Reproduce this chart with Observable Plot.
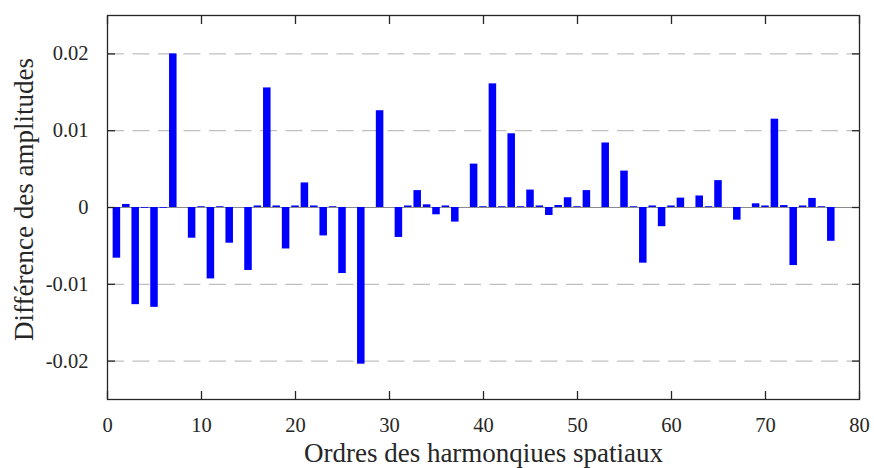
<!DOCTYPE html>
<html><head><meta charset="utf-8">
<script src="https://cdn.jsdelivr.net/npm/d3@7"></script>
<script src="https://cdn.jsdelivr.net/npm/@observablehq/plot@0.6"></script>
<style>html,body{margin:0;padding:0;background:#fff} #chart svg{display:block} #chart svg text{font-family:"Liberation Serif","Times New Roman",Times,serif !important;}</style>
</head><body><div id="chart"></div>
<script>
const orders = [1,2,3,4,5,6,7,8,9,10,11,12,13,14,15,16,17,18,19,20,21,22,23,24,25,26,27,28,29,30,31,32,33,34,35,36,37,38,39,40,41,42,43,44,45,46,47,48,49,50,51,52,53,54,55,56,57,58,59,60,61,62,63,64,65,66,67,68,69,70,71,72,73,74,75,76,77,78,79];
const differences = [
  -0.0066, 0.0004, -0.01265, -0.0001, -0.0130, -0.0001, 0.0200, 0.0000, -0.0040, 0.0001,
  -0.0093, 0.0001, -0.00465, 0.0000, -0.0082, 0.0002, 0.01557, 0.0002, -0.0054, 0.0002,
  0.0032, 0.0002, -0.0037, 0.0001, -0.0086, 0.0000, -0.0204, 0.0000, 0.0126, 0.0000,
  -0.0039, 0.0002, 0.0022, 0.00035, -0.00095, 0.0002, -0.0019, 0.0000, 0.00565, 0.0001,
  0.0161, 0.0001, 0.0096, 0.0001, 0.00227, 0.0002, -0.00104, 0.00026, 0.00127, 0.0001,
  0.0022, 0.0000, 0.0084, 0.0000, 0.00474, 0.0001, -0.00725, 0.0002, -0.0025, 0.0002,
  0.00122, 0.0000, 0.0015, 0.0001, 0.0035, 0.0000, -0.00165, 0.0000, 0.00048, 0.0002,
  0.0115, 0.00025, -0.00756, 0.0002, 0.00118, 0.0001, -0.0044, 0.0000, 0.0000
];
const xTicks = [0, 10, 20, 30, 40, 50, 60, 70, 80];
const yTicks = [-0.02, -0.01, 0, 0.01, 0.02];
const yTickLabels = ["-0.02", "-0.01", "0", "0.01", "0.02"];
const xLabel = "Ordres des harmonqiues spatiaux";
const yLabel = "Différence des amplitudes";

const data = orders.map((n, i) => ({n, v: differences[i]}));
const ink = "#262626";
const serif = '"Liberation Serif", "Times New Roman", Times, serif';

const chart = Plot.plot({
  width: 874,
  height: 468,
  marginLeft: 107,
  marginRight: 15,
  marginTop: 15,
  marginBottom: 69,
  style: {fontFamily: serif, fontSize: "20px", color: ink, background: "#fff"},
  x: {domain: [0, 80]},
  y: {domain: [-0.025, 0.025]},
  marks: [
    Plot.gridY(yTicks, {stroke: "#b0b0b0", strokeOpacity: 1, strokeWidth: 1, strokeDasharray: "17,8.5"}),
    Plot.ruleY([0], {stroke: "#8a8a8a", strokeWidth: 1}),
    Plot.rectY(data, {x1: d => d.n - 0.4, x2: d => d.n + 0.4, y1: 0, y2: "v", fill: "#0000ff"}),
    Plot.frame({stroke: ink, strokeWidth: 1.3}),
    Plot.axisX(xTicks, {anchor: "bottom", tickSize: -8, tickPadding: 26, stroke: ink, strokeWidth: 1.3, fill: ink, fontFamily: serif, fontSize: 20.5, fontVariant: "normal", label: null, tickFormat: d => String(d)}),
    Plot.axisX(xTicks, {anchor: "top", tickSize: -8, stroke: ink, strokeWidth: 1.3, label: null, tickFormat: () => ""}),
    Plot.axisY(yTicks, {anchor: "left", tickSize: -8, tickPadding: 27, stroke: ink, strokeWidth: 1.3, fill: ink, fontFamily: serif, fontSize: 20.5, fontVariant: "normal", label: null, tickFormat: d => yTickLabels[yTicks.indexOf(d)]}),
    Plot.axisY(yTicks, {anchor: "right", tickSize: -8, stroke: ink, strokeWidth: 1.3, label: null, tickFormat: () => ""}),
    Plot.text([xLabel], {frameAnchor: "bottom", dy: 62, lineAnchor: "bottom", textAnchor: "middle", fontFamily: serif, fontSize: 27, fill: ink, text: d => d}),
    Plot.text([yLabel], {frameAnchor: "left", rotate: -90, dx: -94, dy: -8, lineAnchor: "top", textAnchor: "middle", fontFamily: serif, fontSize: 27, fill: ink, text: d => d})
  ]
});
document.getElementById("chart").appendChild(chart);
</script>
</body></html>
